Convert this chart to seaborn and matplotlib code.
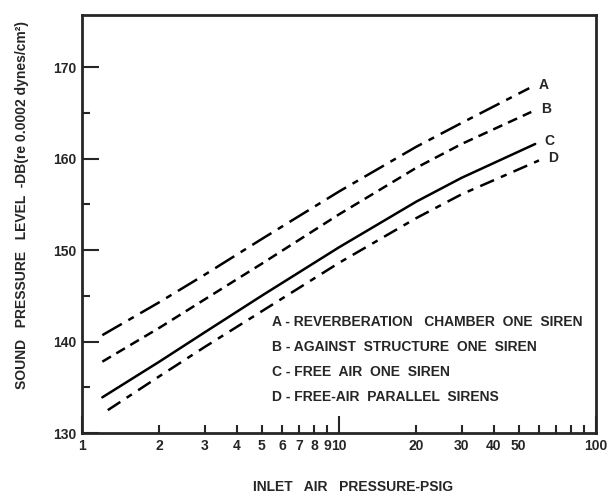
import pandas as pd
import matplotlib
matplotlib.use("Agg")
import matplotlib.pyplot as plt
import matplotlib.ticker as mticker
import seaborn as sns

# inlet air pressure (psig) and sound pressure level (dB)
x_a = [1.2, 2, 3, 5, 10, 20, 30, 55]
y_a = [140.7, 144.3, 147.3, 151.2, 156.4, 161.3, 163.9, 167.7]
x_b = [1.2, 2, 3, 5, 10, 20, 30, 56]
y_b = [137.8, 141.5, 144.6, 148.5, 153.9, 159.0, 161.6, 165.1]
x_c = [1.2, 2, 3, 5, 10, 20, 30, 58]
y_c = [133.9, 137.8, 141.0, 145.0, 150.3, 155.3, 157.9, 161.6]
x_d = [1.26, 2, 3, 5, 10, 20, 30, 60]
y_d = [132.5, 136.2, 139.4, 143.3, 148.6, 153.5, 156.1, 159.8]

curve_names = ["A", "B", "C", "D"]
legend_lines = [
    "A - REVERBERATION   CHAMBER  ONE  SIREN",
    "B - AGAINST  STRUCTURE  ONE  SIREN",
    "C - FREE  AIR  ONE  SIREN",
    "D - FREE-AIR  PARALLEL  SIRENS",
]
y_ticks = [130, 140, 150, 160, 170]
x_tick_labels = {1: "1", 2: "2", 3: "3", 4: "4", 5: "5", 6: "6", 7: "7", 8: "8",
                 9: "9", 10: "10", 20: "20", 30: "30", 40: "40", 50: "50", 100: "100"}

sns.set_style("ticks")
plt.rcParams["font.family"] = ["Liberation Sans", "DejaVu Sans"]
plt.rcParams["font.weight"] = "bold"

df = pd.concat([
    pd.DataFrame({"psig": x, "db": y, "curve": n})
    for x, y, n in zip([x_a, x_b, x_c, x_d], [y_a, y_b, y_c, y_d], curve_names)
])

fig = plt.figure(figsize=(6.15, 5.0), dpi=100)
ax = fig.add_axes([82 / 615, 1 - 433 / 500, (596 - 82) / 615, (433 - 15) / 500])

styles = {
    "A": (0, (9, 3, 2.5, 3)),
    "B": (0, (4, 2.5)),
    "C": "solid",
    "D": (0, (6, 3, 2.5, 3)),
}
for n in curve_names:
    sub = df[df["curve"] == n]
    sns.lineplot(data=sub, x="psig", y="db", ax=ax, color="black",
                 linewidth=1.8, linestyle=styles[n], legend=False)
    ax.text(sub["psig"].iloc[-1] * 1.09, sub["db"].iloc[-1] + 0.3, n,
            fontsize=10, fontweight="bold", va="center", ha="left")

ax.set_xscale("log")
ax.set_xlim(1, 100)
ax.set_ylim(130, 175.7)

ax.xaxis.set_major_locator(mticker.FixedLocator([1, 10, 100]))
ax.xaxis.set_minor_locator(mticker.FixedLocator([2, 3, 4, 5, 6, 7, 8, 9, 20, 30, 40, 50, 60, 70, 80, 90]))
fmt = mticker.FuncFormatter(lambda v, p: x_tick_labels.get(int(round(v)), ""))
ax.xaxis.set_major_formatter(fmt)
ax.xaxis.set_minor_formatter(fmt)

ax.yaxis.set_major_locator(mticker.FixedLocator(y_ticks))
ax.yaxis.set_minor_locator(mticker.FixedLocator([135, 145, 155, 165]))

ax.tick_params(axis="both", which="major", direction="in", length=12, width=1.5,
               labelsize=10, pad=4)
ax.tick_params(axis="both", which="minor", direction="in", length=6, width=1.5,
               labelsize=10, pad=4)
for s in ax.spines.values():
    s.set_linewidth(2)
ax.set_xlabel("")
ax.set_ylabel("")

for i, t in enumerate(legend_lines):
    fig.text(272 / 615, 1 - (322 + 25 * i) / 500, t, fontsize=10,
             fontweight="bold", va="center", ha="left")

fig.text(22 / 615, 1 - 205 / 500,
         "SOUND   PRESSURE   LEVEL  -DB(re 0.0002 dynes/cm\u00b2)",
         rotation=90, fontsize=10, fontweight="bold", va="center", ha="center")
fig.text(353 / 615, 1 - 487 / 500, "INLET   AIR   PRESSURE-PSIG",
         fontsize=10, fontweight="bold", va="center", ha="center")

fig.savefig("out.png", dpi=100)
